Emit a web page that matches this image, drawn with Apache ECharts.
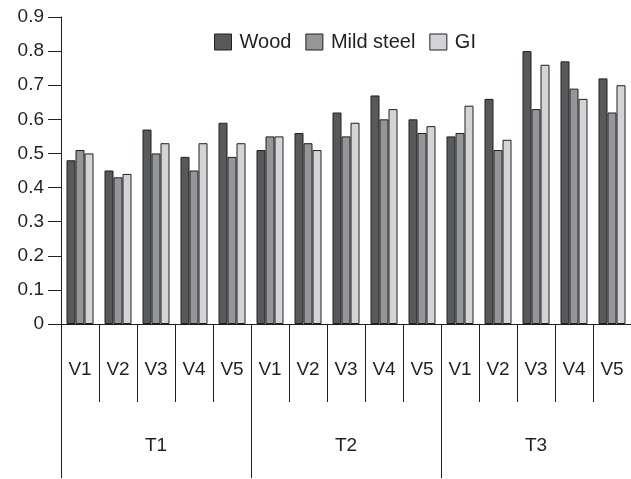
<!DOCTYPE html>
<html>
<head>
<meta charset="utf-8">
<script src="https://cdn.jsdelivr.net/npm/echarts@6/dist/echarts.min.js"></script>
<style>html,body{margin:0;padding:0;background:#fff}#c{width:631px;height:479px}</style>
</head>
<body>
<div id="c"></div>
<script>
const vLabels = ['V1','V2','V3','V4','V5','V1','V2','V3','V4','V5','V1','V2','V3','V4','V5'];
const tLabels = ['T1','T2','T3'];
const yTicks = [0, 0.9, 0.1];
const wood = [0.48,0.45,0.57,0.49,0.59, 0.51,0.56,0.62,0.67,0.60, 0.55,0.66,0.80,0.77,0.72];
const mild = [0.51,0.43,0.50,0.45,0.49, 0.55,0.53,0.55,0.60,0.56, 0.56,0.51,0.63,0.69,0.62];
const gi   = [0.50,0.44,0.53,0.53,0.53, 0.55,0.51,0.59,0.63,0.58, 0.64,0.54,0.76,0.66,0.70];
const seriesNames = ['Wood','Mild steel','GI'];
const colors = ['#58595b','#959698','#d3d4d5'];

const font = 'Liberation Sans, Arial, sans-serif';
const ink = '#231f20';
const chart = echarts.init(document.getElementById('c'), null, {renderer:'canvas'});
const mk = (name, data, color) => ({
  name, type:'bar', data, barWidth:9, barGap:'0%',
  itemStyle:{color, borderColor:ink, borderWidth:1},
  xAxisIndex:0, yAxisIndex:0
});
chart.setOption({
  animation:false,
  backgroundColor:'#fff',
  textStyle:{fontFamily:font},
  legend:{
    data:seriesNames, top:27, left:209, icon:'rect',
    itemWidth:17, itemHeight:16, itemGap:14,
    textStyle:{fontSize:20, color:ink, fontFamily:font, padding:[0,0,0,3]},
    itemStyle:{borderColor:ink, borderWidth:1}
  },
  grid:{left:61, right:0, top:17, bottom:155, containLabel:false},
  xAxis:[
    {type:'category', data:vLabels, position:'bottom',
     axisLine:{show:true, lineStyle:{color:ink, width:1}},
     axisTick:{show:true, interval:0, length:78, lineStyle:{color:ink}},
     axisLabel:{interval:0, margin:36, fontSize:19, color:ink, fontFamily:font}},
    {type:'category', data:tLabels, position:'bottom',
     axisLine:{show:false},
     axisTick:{show:true, interval:0, length:154, lineStyle:{color:ink}},
     axisLabel:{interval:0, margin:112, fontSize:19, color:ink, fontFamily:font}}
  ],
  yAxis:{type:'value', min:yTicks[0], max:yTicks[1], interval:yTicks[2],
    axisLine:{show:true, lineStyle:{color:ink}},
    axisTick:{show:true, length:13, lineStyle:{color:ink}},
    splitLine:{show:false},
    axisLabel:{fontSize:19, color:ink, margin:17, fontFamily:font,
      formatter:v=>String(Math.round(v*10)/10)}},
  series:[mk(seriesNames[0], wood, colors[0]), mk(seriesNames[1], mild, colors[1]), mk(seriesNames[2], gi, colors[2])]
});
</script>
</body>
</html>
